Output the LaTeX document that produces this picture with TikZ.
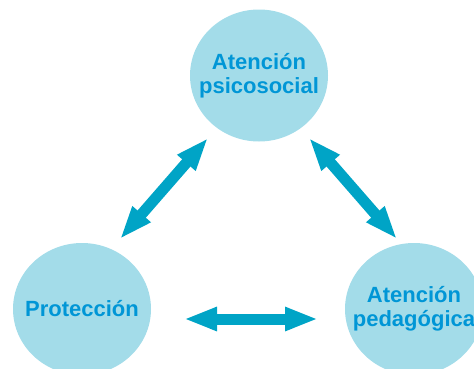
\documentclass[tikz,border=0pt]{standalone}
\usepackage{fontspec}
\setmainfont{Liberation Sans}
\usetikzlibrary{shapes.geometric,arrows.meta}
\definecolor{circfill}{RGB}{163,220,233}
\definecolor{txtblue}{RGB}{0,150,214}
\definecolor{arrblue}{RGB}{0,164,198}
\tikzset{
  bubble/.style={ellipse, fill=circfill, draw=none, minimum width=138pt, minimum height=132pt,
    inner xsep=-40pt, inner ysep=-15pt, align=center, text=txtblue, font=\fontsize{22}{23.5}\selectfont\bfseries},
  dblarrow/.style={draw=arrblue, line width=11pt,
    {Triangle[width=22pt,length=33pt,fill=arrblue]}-{Triangle[width=22pt,length=33pt,fill=arrblue]}}
}
\begin{document}
\begin{tikzpicture}[x=1pt,y=1pt]
\useasboundingbox (0,0) rectangle (474,368);
\node[bubble] (psico) at (259,292.5) {Atención\\psicosocial};
\node[bubble] (prot) at (82,59) {Protección};
\node[bubble] (peda) at (414,59) {Atención\\pedagógica};
\coordinate (a1) at (208,230);
\coordinate (a2) at (120,129);
\coordinate (b1) at (309,230);
\coordinate (b2) at (397,129);
\coordinate (c1) at (184,49);
\coordinate (c2) at (318,49);
\draw[dblarrow] (a1) -- (a2);
\draw[dblarrow] (b1) -- (b2);
\draw[dblarrow] (c1) -- (c2);
\end{tikzpicture}
\end{document}
